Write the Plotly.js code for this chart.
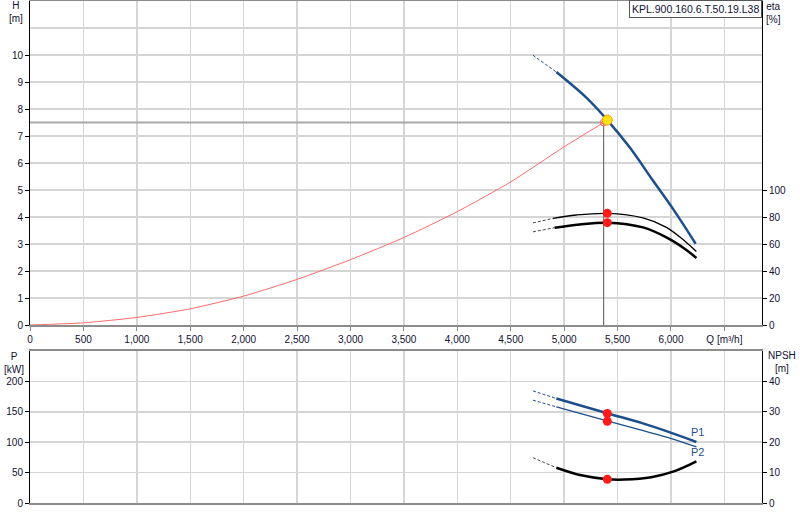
<!DOCTYPE html>
<html>
<head>
<meta charset="utf-8">
<script src="https://cdn.plot.ly/plotly-3.0.1.min.js"></script>
<style>
  html, body { margin: 0; padding: 0; background: #fff; }
  #plot { width: 800px; height: 520px; }
</style>
</head>
<body>
<div id="plot"></div>
<script>
// Curva de la instalación (sistema)
const sysQ = [0, 500, 1000, 1500, 2000, 2500, 3000, 3500, 4000, 4500, 5000, 5370];
const sysH = [0, 0.08, 0.28, 0.6, 1.07, 1.69, 2.42, 3.24, 4.2, 5.3, 6.6, 7.5];

// Curva H de la bomba (tramo punteado + tramo continuo)
const hDashQ = [4708, 4927];
const hDash  = [9.99, 9.37];
const hQ = [4927, 5208, 5404, 5613, 5831, 6019, 6231];
const hH = [9.37, 8.42, 7.59, 6.58, 5.35, 4.30, 3.01];

// Rendimientos
const etaDashQ = [4708, 4895];
const etaDash  = [75.6, 79.0];
const etaQ = [4895, 5114, 5404, 5738, 5957, 6144, 6238];
const eta  = [79.0, 81.5, 82.7, 79.3, 72.3, 61.2, 54.5];
const etaTotDashQ = [4708, 4911];
const etaTotDash  = [69.0, 72.1];
const etaTotQ = [4911, 5145, 5404, 5738, 5957, 6144, 6238];
const etaTot  = [72.1, 74.5, 75.8, 72.3, 64.9, 55.6, 49.6];

// Potencias y NPSH
const pDashQ = [4708, 4927];
const p1Dash = [184.4, 171.9];
const p2Dash = [169.1, 158.1];
const pQ = [4927, 5411, 5723, 6004, 6238];
const p1 = [171.9, 147.2, 131.7, 115.3, 100.4];
const p2 = [158.1, 134.5, 119.7, 106.0, 92.2];
const npshDashQ = [4708, 4927];
const npshDash  = [14.9, 11.6];
const npshQ = [4927, 5161, 5404, 5566, 5816, 6034, 6238];
const npsh  = [11.6, 9.1, 7.8, 7.7, 8.5, 10.5, 13.7];

// Punto de trabajo
const sysDutyQ = 5370;
const sysDutyH = 7.5;
const dutyQ = 5404;
const dutyH = 7.59;
const dutyEta = 82.7;
const dutyEtaTot = 75.8;
const dutyP1 = 147.2;
const dutyP2 = 134.5;
const dutyNpsh = 7.8;

// Ejes
const qTicks = [0, 500, 1000, 1500, 2000, 2500, 3000, 3500, 4000, 4500, 5000, 5500, 6000, 6500];
const qLabels = ['0', '500', '1,000', '1,500', '2,000', '2,500', '3,000', '3,500', '4,000',
                 '4,500', '5,000', '5,500', '6,000', 'Q [m³/h]'];
const hTicks = [0, 1, 2, 3, 4, 5, 6, 7, 8, 9, 10];
const etaTicks = [0, 20, 40, 60, 80, 100];
const pTicks = [0, 50, 100, 150, 200];
const npshTicks = [0, 10, 20, 30, 40];
const modelName = 'KPL.900.160.6.T.50.19.L38';

const W = 800, Hgt = 520;
const M = { l: 30, r: 38, t: 1, b: 17 };
const PW = W - M.l - M.r, PH = Hgt - M.t - M.b;
const px = x => (x - M.l) / PW;
const py = y => (Hgt - M.b - y) / PH;

const BLUE = '#1d4f8c';
const GRID = '#d5d5d5';
const TXT = '#111133';
const FONT = 'Arial, "Liberation Sans", sans-serif';

function line(x, y, opts) {
  return Object.assign({ type: 'scatter', mode: 'lines', x: x, y: y, hoverinfo: 'skip' }, opts);
}
function dot(x, y, xa, ya) {
  return { type: 'scatter', mode: 'markers', x: [x], y: [y], xaxis: xa, yaxis: ya,
           marker: { color: '#ff1a1a', size: 9, line: { width: 0 } } };
}

const traces = [
  // retícula del punto de trabajo
  line([0, sysDutyQ], [sysDutyH, sysDutyH], { line: { color: '#a8a8a8', width: 2 } }),
  line([sysDutyQ, sysDutyQ], [0, sysDutyH], { line: { color: '#555', width: 1 } }),
  // curva de sistema
  line(sysQ, sysH, { line: { color: '#ff6b6b', width: 1, shape: 'spline', smoothing: 0.6 } }),
  // curva H
  line(hDashQ, hDash, { line: { color: BLUE, width: 1, dash: '3px,2px' } }),
  line(hQ, hH, { line: { color: BLUE, width: 2.5, shape: 'spline' } }),
  // rendimientos (eje derecho)
  line(etaDashQ, etaDash, { yaxis: 'y2', line: { color: '#444', width: 1, dash: '3px,2px' } }),
  line(etaQ, eta, { yaxis: 'y2', line: { color: '#000', width: 1.3, shape: 'spline' } }),
  line(etaTotDashQ, etaTotDash, { yaxis: 'y2', line: { color: '#444', width: 1, dash: '3px,2px' } }),
  line(etaTotQ, etaTot, { yaxis: 'y2', line: { color: '#000', width: 2.5, shape: 'spline' } }),
  dot(dutyQ, dutyEta, 'x', 'y2'),
  dot(dutyQ, dutyEtaTot, 'x', 'y2'),
  // punto de trabajo
  { type: 'scatter', mode: 'markers', x: [sysDutyQ], y: [sysDutyH],
    marker: { symbol: 'circle-cross-open', color: '#ff7070', size: 7, line: { width: 1 } } },
  { type: 'scatter', mode: 'markers', x: [dutyQ], y: [dutyH],
    marker: { color: '#ffe11a', size: 10, line: { color: '#f5a000', width: 1 } } },

  // panel inferior: P1, P2
  line(pDashQ, p1Dash, { xaxis: 'x2', yaxis: 'y3', line: { color: BLUE, width: 1, dash: '3px,2px' } }),
  line(pQ, p1, { xaxis: 'x2', yaxis: 'y3', line: { color: BLUE, width: 2.5, shape: 'spline' } }),
  line(pDashQ, p2Dash, { xaxis: 'x2', yaxis: 'y3', line: { color: BLUE, width: 1, dash: '3px,2px' } }),
  line(pQ, p2, { xaxis: 'x2', yaxis: 'y3', line: { color: BLUE, width: 1.3, shape: 'spline' } }),
  dot(dutyQ, dutyP1, 'x2', 'y3'),
  dot(dutyQ, dutyP2, 'x2', 'y3'),
  // NPSH
  line(npshDashQ, npshDash, { xaxis: 'x2', yaxis: 'y4', line: { color: '#444', width: 1, dash: '3px,2px' } }),
  line(npshQ, npsh, { xaxis: 'x2', yaxis: 'y4', line: { color: '#000', width: 2.5, shape: 'spline' } }),
  dot(dutyQ, dutyNpsh, 'x2', 'y4')
];

const tickFont = { family: FONT, size: 10, color: TXT };
const qRange = [0, 6852];

function yLeft(domain, range, ticks, extra) {
  return Object.assign({
    domain: domain, range: range, tickvals: ticks, ticks: 'outside', ticklen: 4,
    tickcolor: '#000', showline: true, linecolor: '#000', linewidth: 1,
    showgrid: true, gridcolor: GRID, gridwidth: 1.5, zeroline: false,
    tickfont: tickFont, fixedrange: true
  }, extra || {});
}
function yRight(overlay, anchor, range, ticks) {
  return {
    overlaying: overlay, anchor: anchor, side: 'right', range: range, tickvals: ticks,
    ticks: 'outside', ticklen: 4, tickcolor: '#000', showline: true, linecolor: '#000',
    linewidth: 1, showgrid: false, zeroline: false, tickfont: tickFont
  };
}

const layout = {
  width: W, height: Hgt,
  margin: M,
  paper_bgcolor: '#fff', plot_bgcolor: '#fff',
  showlegend: false,
  font: { family: FONT, size: 10, color: TXT },
  xaxis: {
    anchor: 'y', domain: [0, 1], range: qRange, tickvals: qTicks, ticktext: qLabels,
    ticks: 'outside', ticklen: 4, tickcolor: '#888', showline: true, linecolor: '#8c8c8c',
    linewidth: 2, mirror: true, showgrid: true, gridcolor: GRID, gridwidth: 1.5,
    zeroline: false, tickfont: tickFont
  },
  yaxis: yLeft([py(325), 1], [0, 12], hTicks,
               { minor: { tickvals: [11], ticks: '', showgrid: true, gridcolor: GRID, gridwidth: 1.5 } }),
  yaxis2: yRight('y', 'x', [0, 240], etaTicks),
  xaxis2: {
    anchor: 'y3', domain: [0, 1], range: qRange, tickvals: qTicks, showticklabels: false,
    ticks: '', showline: true, linecolor: '#8c8c8c', linewidth: 2, mirror: true,
    showgrid: true, gridcolor: GRID, gridwidth: 1.5, zeroline: false
  },
  yaxis3: yLeft([0, py(351)], [0, 250], pTicks, { anchor: 'x2' }),
  yaxis4: yRight('y3', 'x2', [0, 50], npshTicks),
  annotations: [
    { text: 'H<br>[m]', x: px(16), y: py(-2), xanchor: 'center', yanchor: 'top' },
    { text: 'eta<br>[%]', x: px(773), y: py(-1), xanchor: 'center', yanchor: 'top' },
    { text: 'P<br>[kW]', x: px(14), y: py(349), xanchor: 'center', yanchor: 'top' },
    { text: 'NPSH<br>[m]', x: px(782), y: py(348), xanchor: 'center', yanchor: 'top' },
    { text: 'P1', x: px(697), y: py(432), xanchor: 'center', yanchor: 'middle', font: { color: BLUE, size: 11 } },
    { text: 'P2', x: px(697), y: py(452), xanchor: 'center', yanchor: 'middle', font: { color: BLUE, size: 11 } },
    { text: modelName, x: px(762), y: py(0), xanchor: 'right', yanchor: 'top',
      bgcolor: '#fff', bordercolor: '#555', borderwidth: 1, borderpad: 2,
      font: { size: 10.5, color: TXT } }
  ].map(a => Object.assign({ xref: 'paper', yref: 'paper', showarrow: false, font: { size: 10, color: TXT } }, a))
};

Plotly.newPlot('plot', traces, layout, { staticPlot: true, displayModeBar: false });
</script>
</body>
</html>
